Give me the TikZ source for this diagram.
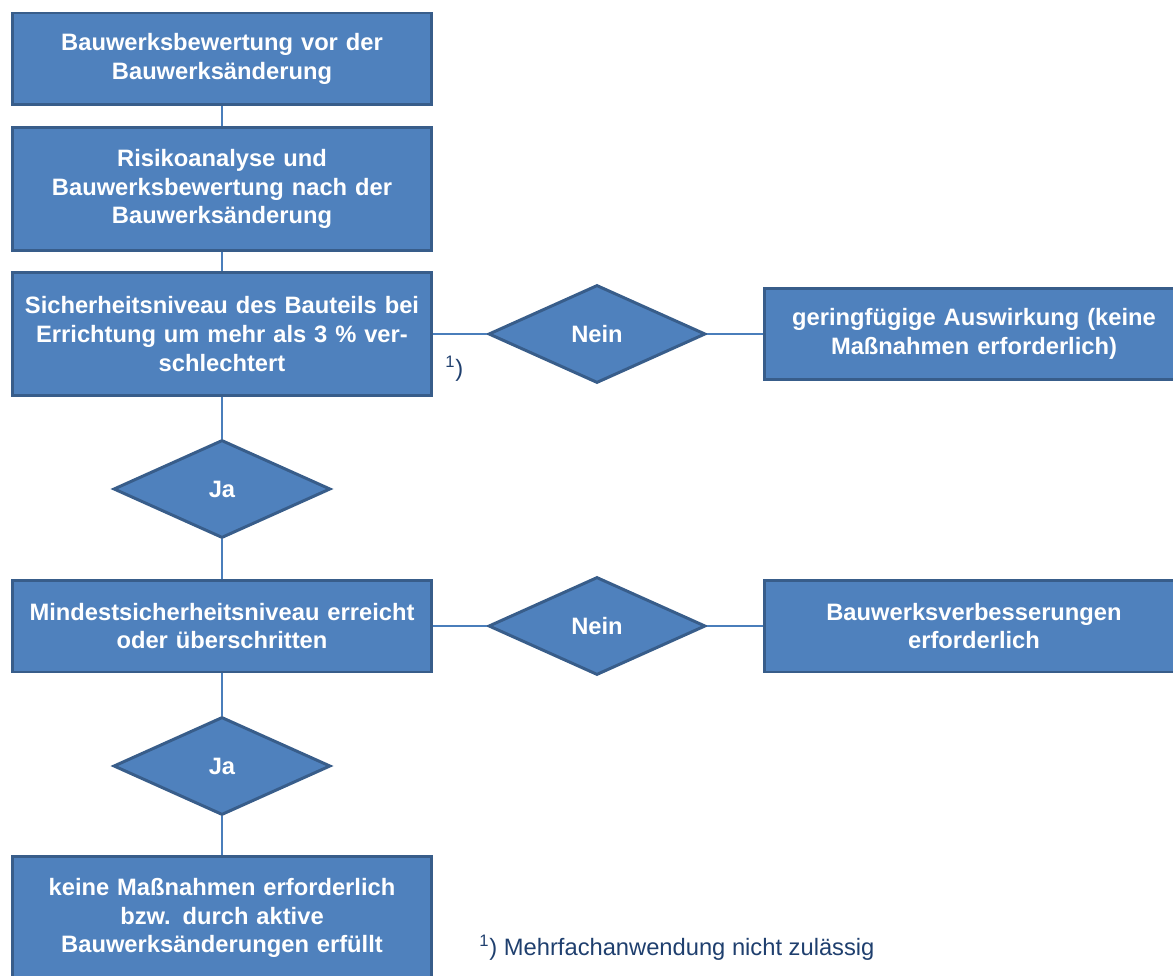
\documentclass[tikz,border=0pt]{standalone}
\usepackage{fontspec}
\setmainfont{Liberation Sans}
\usetikzlibrary{shapes.geometric}
\definecolor{boxblue}{HTML}{4F81BD}
\definecolor{edgeblue}{HTML}{385D8A}
\definecolor{lineblue}{HTML}{4A7EBB}
\definecolor{noteblue}{HTML}{1F3F6E}

\begin{document}
\begin{tikzpicture}[x=0.02cm, y=-0.02cm]

    \tikzstyle{process} = [rectangle, fill=boxblue, draw=edgeblue, line width=1.7pt, minimum width=8.4cm, text width=8.1cm, align=center, text=white, font=\bfseries\fontsize{13.5}{16.4}\selectfont]
    \tikzstyle{decision} = [diamond, fill=boxblue, draw=edgeblue, line width=1.7pt, minimum width=4.34cm, minimum height=1.96cm, inner sep=0pt, text=white, font=\bfseries\fontsize{13.5}{16.4}\selectfont]
    \tikzstyle{line} = [lineblue, line width=1.7pt]
    \tikzstyle{note} = [text=noteblue, font=\fontsize{13.5}{16}\selectfont, inner sep=0pt, anchor=west]

    \useasboundingbox (0,0) rectangle (1173,976);

    % Nodes
    \node (before) [process, minimum height=1.84cm] at (222,59) {Bauwerksbewertung vor der\\Bauwerksänderung};
    \node (after) [process, minimum height=2.46cm] at (222,189) {Risikoanalyse und\\Bauwerksbewertung nach der\\Bauwerksänderung};
    \node (level) [process, minimum height=2.46cm] at (222,334) {Sicherheitsniveau des Bauteils bei\\Errichtung um mehr als 3 \% ver-\\schlechtert};
    \node (no1) [decision] at (597,334) {Nein};
    \node (minor) [process, minimum height=1.84cm] at (974,334) {geringfügige Auswirkung (keine\\Maßnahmen erforderlich)};
    \node (yes1) [decision] at (222,489) {Ja};
    \node (minimum) [process, minimum height=1.84cm] at (222,626) {Mindestsicherheitsniveau erreicht\\oder überschritten};
    \node (no2) [decision] at (597,626) {Nein};
    \node (improve) [process, minimum height=1.84cm] at (974,626) {Bauwerksverbesserungen\\erforderlich};
    \node (yes2) [decision] at (222,766) {Ja};
    \node (none) [process, minimum height=2.48cm] at (222,918) {keine Maßnahmen erforderlich\\bzw. durch aktive\\Bauwerksänderungen erfüllt};

    % Notes
    \node (mark) [note] at (445,369) {\textsuperscript{1})};
    \node (footnote) [note] at (479,948) {\textsuperscript{1}) Mehrfachanwendung nicht zulässig};

    % Lines
    \draw [line] (before) -- (after);
    \draw [line] (after) -- (level);
    \draw [line] (level) -- (yes1);
    \draw [line] (yes1) -- (minimum);
    \draw [line] (minimum) -- (yes2);
    \draw [line] (yes2) -- (none);
    \draw [line] (level) -- (no1);
    \draw [line] (no1) -- (minor);
    \draw [line] (minimum) -- (no2);
    \draw [line] (no2) -- (improve);

\end{tikzpicture}
\end{document}
